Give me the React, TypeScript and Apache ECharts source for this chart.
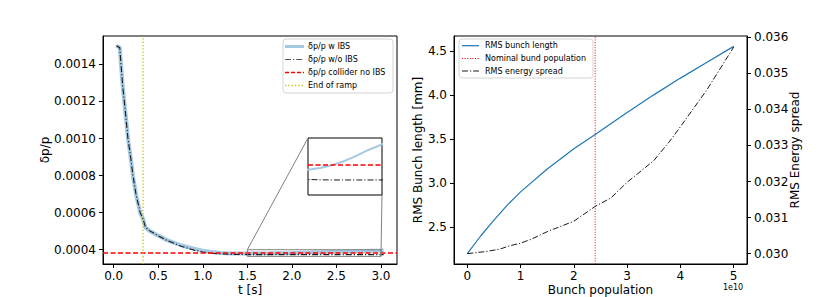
import React, { useEffect, useRef } from "react";
import * as echarts from "echarts";

// ---------- Left panel data ----------
const T_S = [0.03, 0.05, 0.068, 0.082, 0.1, 0.119, 0.14, 0.16, 0.19, 0.216, 0.25, 0.298, 0.33, 0.357, 0.4, 0.5, 0.6, 0.75, 0.9, 1.0, 1.1, 1.2, 1.3, 1.5, 1.75, 2.0, 2.2, 2.35, 2.5, 2.69, 2.85, 3.0, 3.03];
const DP_W_IBS = [0.0015, 0.001495, 0.00149, 0.0014, 0.00129, 0.0012, 0.0011, 0.001, 0.0009, 0.0008, 0.0007, 0.0006, 0.000565, 0.00052, 0.000503, 0.000476, 0.000452, 0.000425, 0.000405, 0.000395, 0.000388, 0.000383, 0.00038, 0.00038, 0.000381, 0.000383, 0.000385, 0.000387, 0.000389, 0.000392, 0.000394, 0.000396, 0.000397];
const DP_WO_IBS = [0.0015, 0.001495, 0.00149, 0.0014, 0.00129, 0.0012, 0.0011, 0.001, 0.0009, 0.0008, 0.0007, 0.0006, 0.000565, 0.00052, 0.000503, 0.000475, 0.00045, 0.00042, 0.000398, 0.000388, 0.000381, 0.000377, 0.000375, 0.0003738, 0.0003736, 0.0003735, 0.0003735, 0.0003735, 0.0003735, 0.0003735, 0.0003735, 0.0003735, 0.0003735];
const COLLIDER_DP = 0.000383;
const RAMP_END = 0.33;
const LEFT_X_RANGE = [-0.12, 3.18];
const LEFT_Y_RANGE = [0.000323, 0.001553];
const LEFT_X_TICKS = [0, 0.5, 1.0, 1.5, 2.0, 2.5, 3.0];
const LEFT_Y_TICKS = [0.0004, 0.0006, 0.0008, 0.001, 0.0012, 0.0014];
const INSET_X = [1.5, 3.0];
const INSET_Y = [0.000364, 0.0004];

// ---------- Right panel data (population in units of 1e10) ----------
const POP_BL = [0, 0.25, 0.5, 0.75, 1, 1.5, 2, 2.4, 3, 3.5, 4, 4.5, 5];
const BUNCH_LENGTH = [2.2, 2.4, 2.58, 2.75, 2.9, 3.16, 3.39, 3.55, 3.8, 4.0, 4.19, 4.37, 4.55];
const POP_ES = [0, 0.3, 0.6, 0.8, 1.0, 1.2, 1.5, 2.0, 2.4, 2.7, 3.0, 3.5, 3.8, 4.0, 4.5, 5.0];
const ENERGY_SPREAD = [0.03, 0.03005, 0.03012, 0.03022, 0.03029, 0.0304, 0.03061, 0.0309, 0.03131, 0.03155, 0.03198, 0.03258, 0.03312, 0.03352, 0.03455, 0.03573];
const NOMINAL_POP = 2.4;
const RIGHT_X_RANGE = [-0.25, 5.25];
const RIGHT_Y_RANGE = [2.0825, 4.6675];
const RIGHT_Y2_RANGE = [0.0297125, 0.0360375];
const RIGHT_X_TICKS = [0, 1, 2, 3, 4, 5];
const RIGHT_Y_TICKS = [2.5, 3.0, 3.5, 4.0, 4.5];
const RIGHT_Y2_TICKS = [0.03, 0.031, 0.032, 0.033, 0.034, 0.035, 0.036];

const FONT = '"DejaVu Sans", Verdana, sans-serif';
const C_W_IBS = "#a5c9e1";
const C_WO = "#1a1a1a";
const C_RED = "#ff0000";
const C_YEL = "#c4c400";
const C_BLUE = "#1f77b4";

const zip = (xs: number[], ys: number[]) => xs.map((x, i) => [x, ys[i]]);

function valueAxis(grid: number, range: number[], ticks: number[], dec: number, margin: number, extra: any = {}) {
  return {
    type: "value",
    gridIndex: grid,
    min: range[0],
    max: range[1],
    splitLine: { show: false },
    axisLine: { show: true, onZero: false, lineStyle: { color: "#000", width: 1 } },
    axisTick: { show: true, length: 4, customValues: ticks, lineStyle: { color: "#000", width: 1 } },
    axisLabel: {
      show: true,
      customValues: ticks,
      formatter: (v: number) => v.toFixed(dec),
      color: "#000",
      fontSize: 12,
      lineHeight: 13,
      fontFamily: FONT,
      margin,
    },
    nameMoveOverlap: false,
    nameTextStyle: { color: "#000", fontSize: 12, lineHeight: 13, fontFamily: FONT },
    ...extra,
  };
}

function legend(x: number, y: number, w: number, h: number, items: any[]) {
  const els: any[] = [
    {
      type: "rect",
      shape: { x, y, width: w, height: h, r: 3 },
      style: { fill: "rgba(255,255,255,0.85)", stroke: "#d5d5d5", lineWidth: 1 },
      z: 100,
    },
  ];
  items.forEach((it) => {
    els.push({
      type: "line",
      shape: { x1: it.lx1, y1: it.y, x2: it.lx2, y2: it.y },
      style: { stroke: it.color, lineWidth: it.width, lineDash: it.dash || null },
      z: 101,
    });
    els.push({
      type: "text",
      x: it.tx,
      y: it.y,
      style: { text: it.text, fontSize: 8, fontFamily: FONT, fill: "#000", align: "left", verticalAlign: "middle" },
      z: 101,
    });
  });
  return els;
}

export default function App() {
  const ref = useRef<HTMLDivElement>(null);
  useEffect(() => {
    if (!ref.current) return;
    const chart = echarts.init(ref.current, null, { renderer: "svg" });
    const line = (xi: number, yi: number, data: number[][], color: string, width: number, type: any, z = 2) => ({
      type: "line",
      xAxisIndex: xi,
      yAxisIndex: yi,
      data,
      symbol: "none",
      silent: true,
      clip: true,
      z,
      lineStyle: { color, width, type },
    });
    const option: any = {
      animation: false,
      backgroundColor: "#fff",
      grid: [
        { left: 103, top: 36, width: 294, height: 228, show: true, borderColor: "#000", borderWidth: 1, backgroundColor: "transparent", outerBoundsMode: "none" },
        { left: 454, top: 36, width: 293, height: 228, show: true, borderColor: "#000", borderWidth: 1, backgroundColor: "transparent", outerBoundsMode: "none" },
        { left: 308, top: 138, width: 74, height: 57, show: true, borderColor: "#000", borderWidth: 1, backgroundColor: "#fff", outerBoundsMode: "none", z: 10 },
      ],
      xAxis: [
        valueAxis(0, LEFT_X_RANGE, LEFT_X_TICKS, 1, 5, { name: "t [s]", nameLocation: "middle", nameGap: 19 }),
        valueAxis(1, RIGHT_X_RANGE, RIGHT_X_TICKS, 0, 5, { name: "Bunch population", nameLocation: "middle", nameGap: 19 }),
        { type: "value", gridIndex: 2, min: INSET_X[0], max: INSET_X[1], show: false, splitLine: { show: false } },
      ],
      yAxis: [
        valueAxis(0, LEFT_Y_RANGE, LEFT_Y_TICKS, 4, 7, { name: "δp/p", nameLocation: "middle", nameGap: 52 }),
        valueAxis(1, RIGHT_Y_RANGE, RIGHT_Y_TICKS, 1, 7, { name: "RMS Bunch length [mm]", nameLocation: "middle", nameGap: 30 }),
        { type: "value", gridIndex: 2, min: INSET_Y[0], max: INSET_Y[1], show: false, splitLine: { show: false } },
        valueAxis(1, RIGHT_Y2_RANGE, RIGHT_Y2_TICKS, 3, 7, { position: "right", name: "RMS Energy spread", nameLocation: "middle", nameGap: 41 }),
      ],
      series: [
        // left main
        line(0, 0, zip(T_S, DP_W_IBS), C_W_IBS, 4, "solid", 2),
        line(0, 0, zip(T_S, DP_WO_IBS), C_WO, 1.1, [6, 2, 1.2, 2], 3),
        line(0, 0, [[LEFT_X_RANGE[0], COLLIDER_DP], [LEFT_X_RANGE[1], COLLIDER_DP]], C_RED, 1.5, [5, 2.5], 4),
        line(0, 0, [[RAMP_END, LEFT_Y_RANGE[0]], [RAMP_END, LEFT_Y_RANGE[1]]], C_YEL, 1.3, [1.3, 2], 4),
        // zoom rectangle
        line(0, 0, [[INSET_X[0], INSET_Y[0]], [INSET_X[1], INSET_Y[0]], [INSET_X[1], INSET_Y[1]], [INSET_X[0], INSET_Y[1]], [INSET_X[0], INSET_Y[0]]], "#808080", 1, "solid", 5),
        // inset
        line(2, 2, zip(T_S, DP_W_IBS), C_W_IBS, 2, "solid", 11),
        line(2, 2, zip(T_S, DP_WO_IBS), C_WO, 1, [6, 2, 1.2, 2], 12),
        line(2, 2, [[INSET_X[0], COLLIDER_DP], [INSET_X[1], COLLIDER_DP]], C_RED, 1.5, [5, 2.5], 13),
        // right
        line(1, 1, zip(POP_BL, BUNCH_LENGTH), C_BLUE, 1.2, "solid", 2),
        line(1, 1, [[NOMINAL_POP, RIGHT_Y_RANGE[0]], [NOMINAL_POP, RIGHT_Y_RANGE[1]]], C_RED, 1, [1, 1.6], 3),
        line(1, 3, zip(POP_ES, ENERGY_SPREAD), C_WO, 1, [6, 2, 1.2, 2], 4),
      ],
    };
    chart.setOption(option);

    const rTL = chart.convertToPixel({ gridIndex: 0 } as any, [INSET_X[0], INSET_Y[1]]) as number[];
    const rBR = chart.convertToPixel({ gridIndex: 0 } as any, [INSET_X[1], INSET_Y[0]]) as number[];
    const iTL = chart.convertToPixel({ gridIndex: 2 } as any, [INSET_X[0], INSET_Y[1]]) as number[];
    const iBR = chart.convertToPixel({ gridIndex: 2 } as any, [INSET_X[1], INSET_Y[0]]) as number[];

    const graphics: any[] = [
      { type: "line", shape: { x1: rTL[0], y1: rTL[1], x2: iTL[0], y2: iTL[1] }, style: { stroke: "#808080", lineWidth: 1 }, z: 50 },
      { type: "line", shape: { x1: rBR[0], y1: rBR[1], x2: iBR[0], y2: iBR[1] }, style: { stroke: "#808080", lineWidth: 1 }, z: 50 },
      ...legend(283, 39, 110, 54, [
        { y: 46.5, lx1: 285, lx2: 304, tx: 308, color: C_W_IBS, width: 3, text: "δp/p w IBS" },
        { y: 59.5, lx1: 285, lx2: 304, tx: 308, color: "#555", width: 1, dash: [6, 2, 1.2, 2], text: "δp/p w/o IBS" },
        { y: 72.5, lx1: 285, lx2: 304, tx: 308, color: C_RED, width: 1.5, dash: [4, 2], text: "δp/p collider no IBS" },
        { y: 85.5, lx1: 285, lx2: 304, tx: 308, color: C_YEL, width: 1.3, dash: [1.3, 2], text: "End of ramp" },
      ]),
      ...legend(459, 39, 134, 39, [
        { y: 45.7, lx1: 462, lx2: 479, tx: 485, color: C_BLUE, width: 1.2, text: "RMS bunch length" },
        { y: 58.5, lx1: 462, lx2: 479, tx: 485, color: C_RED, width: 1, dash: [1, 1.6], text: "Nominal bund population" },
        { y: 71, lx1: 462, lx2: 479, tx: 485, color: C_WO, width: 1, dash: [6, 2, 1.2, 2], text: "RMS energy spread" },
      ]),
      {
        type: "text",
        x: 733,
        y: 287,
        style: { text: "1e10", fontSize: 8, fontFamily: FONT, fill: "#000", align: "center", verticalAlign: "middle" },
      },
    ];
    chart.setOption({ graphic: { elements: graphics } });

    return () => chart.dispose();
  }, []);
  return <div ref={ref} style={{ position: "fixed", left: 0, top: 0, width: 830, height: 297, background: "#fff" }} />;
}
